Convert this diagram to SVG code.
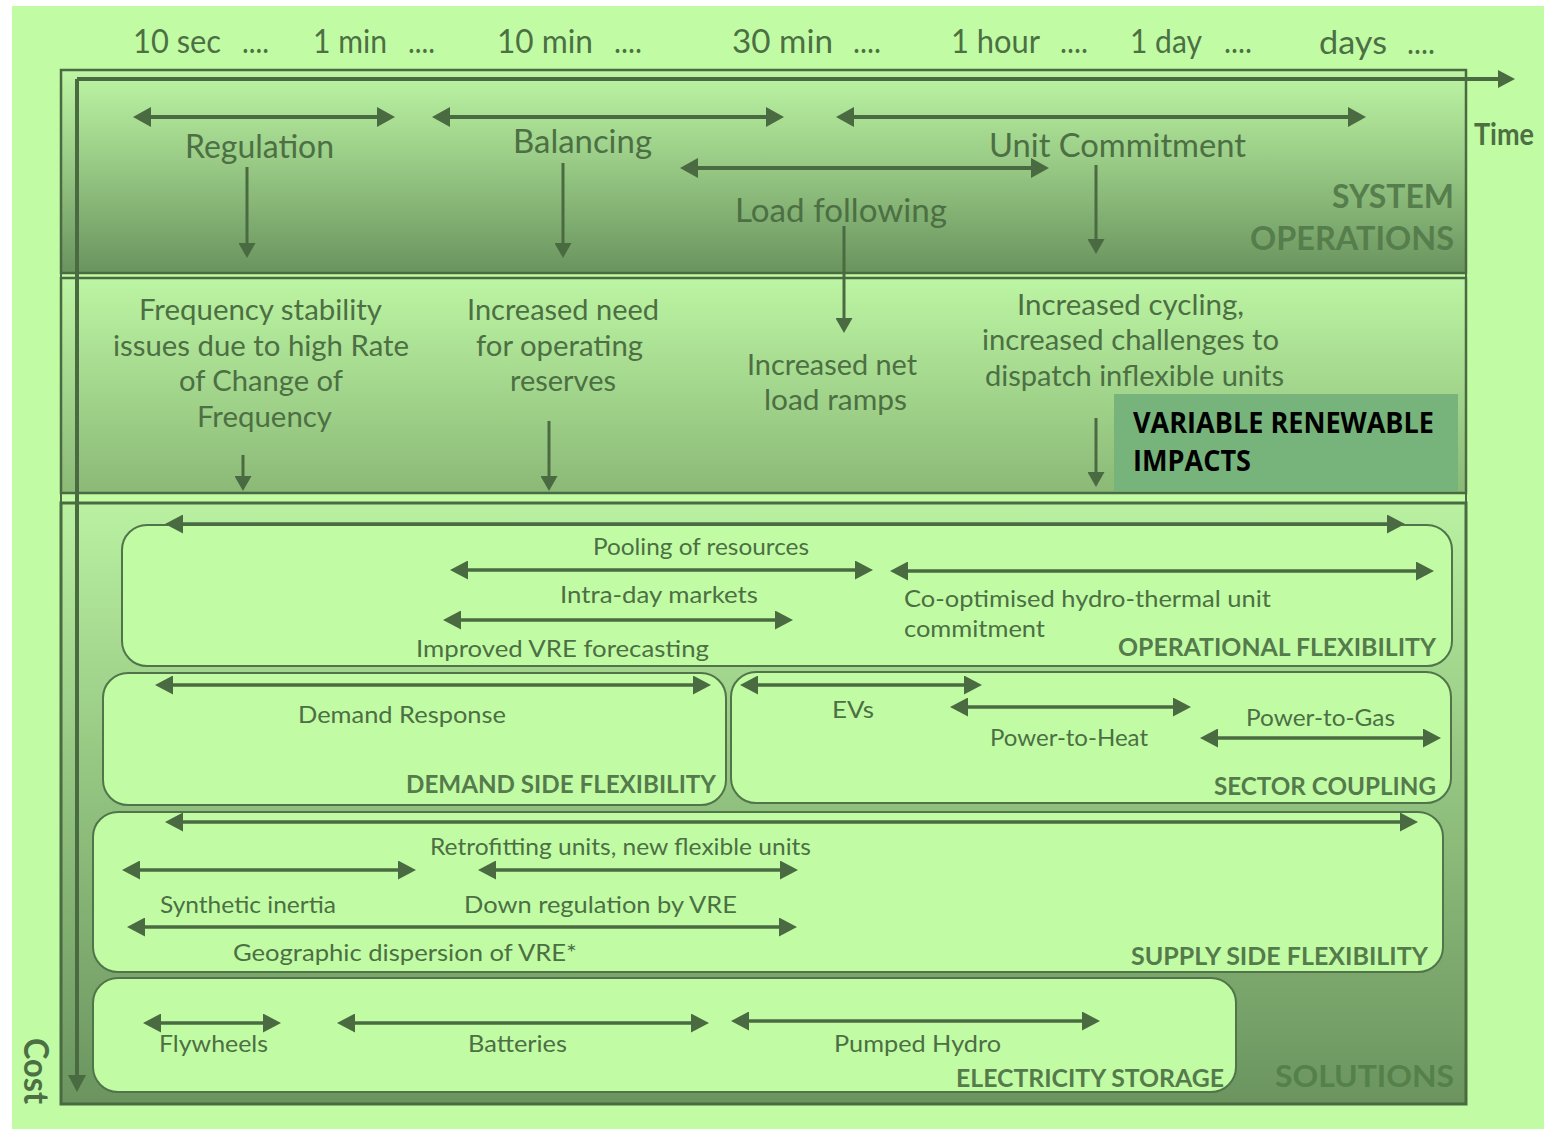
<svg xmlns="http://www.w3.org/2000/svg" width="1544" height="1129" viewBox="0 0 1544 1129">
<defs>
<linearGradient id="gSys" x1="0" y1="70" x2="0" y2="273" gradientUnits="userSpaceOnUse">
<stop offset="0" stop-color="#bdf6a4"/><stop offset="0.45" stop-color="#99cb86"/><stop offset="1" stop-color="#6a935e"/>
</linearGradient>
<linearGradient id="gVre" x1="0" y1="278" x2="0" y2="493" gradientUnits="userSpaceOnUse">
<stop offset="0" stop-color="#bcf5a3"/><stop offset="1" stop-color="#8bb977"/>
</linearGradient>
<linearGradient id="gSol" x1="0" y1="503" x2="0" y2="1104" gradientUnits="userSpaceOnUse">
<stop offset="0" stop-color="#b9f1a1"/><stop offset="0.5" stop-color="#91c17e"/><stop offset="1" stop-color="#6b945f"/>
</linearGradient>
<marker id="ah" viewBox="0 0 18 20" refX="10" refY="10" markerWidth="18" markerHeight="20" markerUnits="userSpaceOnUse" orient="auto-start-reverse"><path d="M0,0 L18,10 L0,20 z" fill="#4a6a41"/></marker>
<marker id="as" viewBox="0 0 18 19" refX="10" refY="9.5" markerWidth="18" markerHeight="19" markerUnits="userSpaceOnUse" orient="auto-start-reverse"><path d="M0,0 L18,9.5 L0,19 z" fill="#4a6a41"/></marker>
<marker id="ad" viewBox="0 0 15 17" refX="7" refY="8.5" markerWidth="15" markerHeight="17" markerUnits="userSpaceOnUse" orient="auto"><path d="M0,0 L15,8.5 L0,17 z" fill="#4a6a41"/></marker>
<marker id="ax" viewBox="0 0 17 18" refX="9" refY="9" markerWidth="17" markerHeight="18" markerUnits="userSpaceOnUse" orient="auto"><path d="M0,0 L17,9 L0,18 z" fill="#4a6a41"/></marker>
</defs>
<style>
.t{font-family:Lato,"Open Sans","Liberation Sans",sans-serif;fill:#4c6f43}
.top{font-size:33px}
.big{font-size:32px}
.mid{font-size:28px}
.sm{font-size:24px}
.b{font-weight:bold}
.sec{font-size:25px;font-weight:bold;fill:#557a4b}
.hdr{font-size:32px;font-weight:bold;fill:#567d4c}
.box{fill:#c1fca5;stroke:#52744a;stroke-width:2}
.arr{fill:none;stroke:#4a6a41;stroke-width:4}
.arr2{fill:none;stroke:#4a6a41;stroke-width:3.5}
.dn{fill:none;stroke:#4a6a41;stroke-width:3}
</style>
<rect width="1544" height="1129" fill="#ffffff"/>
<rect x="12" y="6" width="1532" height="1123" fill="#c1fca5"/>

<g id="panel-system-operations">
<rect x="61" y="70" width="1405" height="203" fill="url(#gSys)" stroke="#4a6a41" stroke-width="2.5"/>
<text class="t hdr" x="1332" y="208" textLength="122" lengthAdjust="spacingAndGlyphs">SYSTEM</text>
<text class="t hdr" x="1250" y="250" textLength="204" lengthAdjust="spacingAndGlyphs">OPERATIONS</text>
</g>
<g id="panel-vre-impacts">
<rect x="61" y="278" width="1405" height="215" fill="url(#gVre)" stroke="#4a6a41" stroke-width="2.5"/>
</g>
<g id="panel-solutions">
<rect x="61" y="503" width="1405" height="601" fill="url(#gSol)" stroke="#4a6a41" stroke-width="3"/>
<text class="t b" x="1275" y="1087" font-size="31" style="fill:#54804a" textLength="179" lengthAdjust="spacingAndGlyphs">SOLUTIONS</text>
</g>
<rect x="61" y="70" width="1405" height="1034" fill="none" stroke="#4a6a41" stroke-width="2"/>

<g id="time-labels">
<text class="t top" y="53"><tspan x="133" textLength="88" lengthAdjust="spacingAndGlyphs">10 sec</tspan><tspan x="242" textLength="27" lengthAdjust="spacingAndGlyphs">....</tspan></text>
<text class="t top" y="53"><tspan x="313" textLength="74" lengthAdjust="spacingAndGlyphs">1 min</tspan><tspan x="408" textLength="27" lengthAdjust="spacingAndGlyphs">....</tspan></text>
<text class="t top" y="53"><tspan x="497" textLength="96" lengthAdjust="spacingAndGlyphs">10 min</tspan><tspan x="614" textLength="28" lengthAdjust="spacingAndGlyphs">....</tspan></text>
<text class="t top" y="53"><tspan x="732" textLength="101" lengthAdjust="spacingAndGlyphs">30 min</tspan><tspan x="853" textLength="28" lengthAdjust="spacingAndGlyphs">....</tspan></text>
<text class="t top" y="53"><tspan x="951" textLength="89" lengthAdjust="spacingAndGlyphs">1 hour</tspan><tspan x="1060" textLength="28" lengthAdjust="spacingAndGlyphs">....</tspan></text>
<text class="t top" y="53"><tspan x="1130" textLength="72" lengthAdjust="spacingAndGlyphs">1 day</tspan><tspan x="1224" textLength="28" lengthAdjust="spacingAndGlyphs">....</tspan></text>
<text class="t top" y="54"><tspan x="1319" textLength="68" lengthAdjust="spacingAndGlyphs">days</tspan><tspan x="1407" textLength="28" lengthAdjust="spacingAndGlyphs">....</tspan></text>
</g>

<g id="axes">
<path class="arr" d="M77,79 H1507" marker-end="url(#ax)"/>
<path class="arr" d="M77,79 V1084" marker-end="url(#ax)"/>
<text class="t b" x="1474" y="145" font-size="31" textLength="60" lengthAdjust="spacingAndGlyphs">Time</text>
<text class="t b" font-size="34" transform="translate(24,1038) rotate(90)" textLength="66" lengthAdjust="spacingAndGlyphs">Cost</text>
</g>

<g id="node-regulation">
<text class="t big" x="185" y="158" textLength="149" lengthAdjust="spacingAndGlyphs">Regulation</text>
</g>
<g id="node-balancing">
<text class="t big" x="513" y="153" textLength="139" lengthAdjust="spacingAndGlyphs">Balancing</text>
</g>
<g id="node-unit-commitment">
<text class="t big" x="989" y="157" textLength="257" lengthAdjust="spacingAndGlyphs">Unit Commitment</text>
</g>
<g id="node-load-following">
<text class="t big" x="735" y="222" textLength="212" lengthAdjust="spacingAndGlyphs">Load following</text>
</g>

<g id="node-frequency-stability">
<text class="t mid" x="139" y="320" textLength="243" lengthAdjust="spacingAndGlyphs">Frequency stability</text>
<text class="t mid" x="113" y="356" textLength="296" lengthAdjust="spacingAndGlyphs">issues due to high Rate</text>
<text class="t mid" x="179" y="391" textLength="164" lengthAdjust="spacingAndGlyphs">of Change of</text>
<text class="t mid" x="197" y="427" textLength="135" lengthAdjust="spacingAndGlyphs">Frequency</text>
</g>
<g id="node-operating-reserves">
<text class="t mid" x="467" y="320" textLength="192" lengthAdjust="spacingAndGlyphs">Increased need</text>
<text class="t mid" x="476" y="356" textLength="167" lengthAdjust="spacingAndGlyphs">for operating</text>
<text class="t mid" x="510" y="391" textLength="106" lengthAdjust="spacingAndGlyphs">reserves</text>
</g>
<g id="node-net-load-ramps">
<text class="t mid" x="747" y="375" textLength="170" lengthAdjust="spacingAndGlyphs">Increased net</text>
<text class="t mid" x="764" y="410" textLength="143" lengthAdjust="spacingAndGlyphs">load ramps</text>
</g>
<g id="node-cycling">
<text class="t mid" x="1017" y="315" textLength="227" lengthAdjust="spacingAndGlyphs">Increased cycling,</text>
<text class="t mid" x="982" y="350" textLength="297" lengthAdjust="spacingAndGlyphs">increased challenges to</text>
<text class="t mid" x="985" y="386" textLength="299" lengthAdjust="spacingAndGlyphs">dispatch inflexible units</text>
</g>
<g id="node-vre-label">
<rect x="1114" y="394" width="344" height="97" fill="#77b47c"/>
<text x="1133" y="433" font-family="'Open Sans','Liberation Sans',sans-serif" font-size="28" font-weight="bold" fill="#000" textLength="301" lengthAdjust="spacingAndGlyphs">VARIABLE RENEWABLE</text>
<text x="1133" y="471" font-family="'Open Sans','Liberation Sans',sans-serif" font-size="28" font-weight="bold" fill="#000" textLength="118" lengthAdjust="spacingAndGlyphs">IMPACTS</text>
</g>

<g id="node-operational-flexibility">
<rect class="box" x="122" y="525" width="1330" height="141" rx="25"/>
<text class="t sm" x="593" y="555" textLength="216" lengthAdjust="spacingAndGlyphs">Pooling of resources</text>
<text class="t sm" x="560" y="603" textLength="198" lengthAdjust="spacingAndGlyphs">Intra-day markets</text>
<text class="t sm" x="416" y="657" textLength="293" lengthAdjust="spacingAndGlyphs">Improved VRE forecasting</text>
<text class="t sm" x="904" y="607" textLength="367" lengthAdjust="spacingAndGlyphs">Co-optimised hydro-thermal unit</text>
<text class="t sm" x="904" y="637" textLength="141" lengthAdjust="spacingAndGlyphs">commitment</text>
<text class="t sec" x="1118" y="656" textLength="318" lengthAdjust="spacingAndGlyphs">OPERATIONAL FLEXIBILITY</text>
</g>
<g id="node-demand-side">
<rect class="box" x="103" y="673" width="623" height="132" rx="25"/>
<text class="t sm" x="298" y="723" textLength="208" lengthAdjust="spacingAndGlyphs">Demand Response</text>
<text class="t sec" x="406" y="793" textLength="310" lengthAdjust="spacingAndGlyphs">DEMAND SIDE FLEXIBILITY</text>
</g>
<g id="node-sector-coupling">
<rect class="box" x="731" y="672" width="720" height="131" rx="25"/>
<text class="t sm" x="832" y="718" textLength="42" lengthAdjust="spacingAndGlyphs">EVs</text>
<text class="t sm" x="990" y="746" textLength="158" lengthAdjust="spacingAndGlyphs">Power-to-Heat</text>
<text class="t sm" x="1246" y="726" textLength="149" lengthAdjust="spacingAndGlyphs">Power-to-Gas</text>
<text class="t sec" x="1214" y="795" textLength="222" lengthAdjust="spacingAndGlyphs">SECTOR COUPLING</text>
</g>
<g id="node-supply-side">
<rect class="box" x="93" y="812" width="1350" height="160" rx="25"/>
<text class="t sm" x="430" y="855" textLength="381" lengthAdjust="spacingAndGlyphs">Retrofitting units, new flexible units</text>
<text class="t sm" x="160" y="913" textLength="176" lengthAdjust="spacingAndGlyphs">Synthetic inertia</text>
<text class="t sm" x="464" y="913" textLength="273" lengthAdjust="spacingAndGlyphs">Down regulation by VRE</text>
<text class="t sm" x="233" y="961" textLength="344" lengthAdjust="spacingAndGlyphs">Geographic dispersion of VRE*</text>
<text class="t sec" x="1131" y="965" textLength="297" lengthAdjust="spacingAndGlyphs">SUPPLY SIDE FLEXIBILITY</text>
</g>
<g id="node-electricity-storage">
<rect class="box" x="93" y="978" width="1143" height="114" rx="25"/>
<text class="t sm" x="159" y="1052" textLength="109" lengthAdjust="spacingAndGlyphs">Flywheels</text>
<text class="t sm" x="468" y="1052" textLength="99" lengthAdjust="spacingAndGlyphs">Batteries</text>
<text class="t sm" x="834" y="1052" textLength="167" lengthAdjust="spacingAndGlyphs">Pumped Hydro</text>
<text class="t sec" x="956" y="1087" textLength="268" lengthAdjust="spacingAndGlyphs">ELECTRICITY STORAGE</text>
</g>

<g id="connectors">
<path class="arr" d="M141,117 H387" marker-start="url(#ah)" marker-end="url(#ah)"/>
<path class="arr" d="M440,117 H776" marker-start="url(#ah)" marker-end="url(#ah)"/>
<path class="arr" d="M844,117 H1358" marker-start="url(#ah)" marker-end="url(#ah)"/>
<path class="arr" d="M688,168 H1041" marker-start="url(#ah)" marker-end="url(#ah)"/>
<path class="dn" d="M247,167 V250" marker-end="url(#ad)"/>
<path class="dn" d="M563,163 V250" marker-end="url(#ad)"/>
<path class="dn" d="M1096,165 V246" marker-end="url(#ad)"/>
<path class="dn" d="M844,226 V325" marker-end="url(#ad)"/>
<path class="dn" d="M243,455 V483" marker-end="url(#ad)"/>
<path class="dn" d="M549,421 V483" marker-end="url(#ad)"/>
<path class="dn" d="M1096,418 V479" marker-end="url(#ad)"/>
<path class="arr2" d="M173,524 H1397" marker-start="url(#as)" marker-end="url(#as)"/>
<path class="arr2" d="M458,570 H865" marker-start="url(#as)" marker-end="url(#as)"/>
<path class="arr2" d="M898,571 H1426" marker-start="url(#as)" marker-end="url(#as)"/>
<path class="arr2" d="M451,620 H785" marker-start="url(#as)" marker-end="url(#as)"/>
<path class="arr2" d="M163,685 H703" marker-start="url(#as)" marker-end="url(#as)"/>
<path class="arr2" d="M748,685 H974" marker-start="url(#as)" marker-end="url(#as)"/>
<path class="arr2" d="M958,707 H1183" marker-start="url(#as)" marker-end="url(#as)"/>
<path class="arr2" d="M1208,738 H1433" marker-start="url(#as)" marker-end="url(#as)"/>
<path class="arr2" d="M173,822 H1410" marker-start="url(#as)" marker-end="url(#as)"/>
<path class="arr2" d="M130,870 H408" marker-start="url(#as)" marker-end="url(#as)"/>
<path class="arr2" d="M486,870 H790" marker-start="url(#as)" marker-end="url(#as)"/>
<path class="arr2" d="M135,927 H789" marker-start="url(#as)" marker-end="url(#as)"/>
<path class="arr2" d="M151,1023 H273" marker-start="url(#as)" marker-end="url(#as)"/>
<path class="arr2" d="M345,1023 H701" marker-start="url(#as)" marker-end="url(#as)"/>
<path class="arr2" d="M739,1021 H1092" marker-start="url(#as)" marker-end="url(#as)"/>
</g>
</svg>
